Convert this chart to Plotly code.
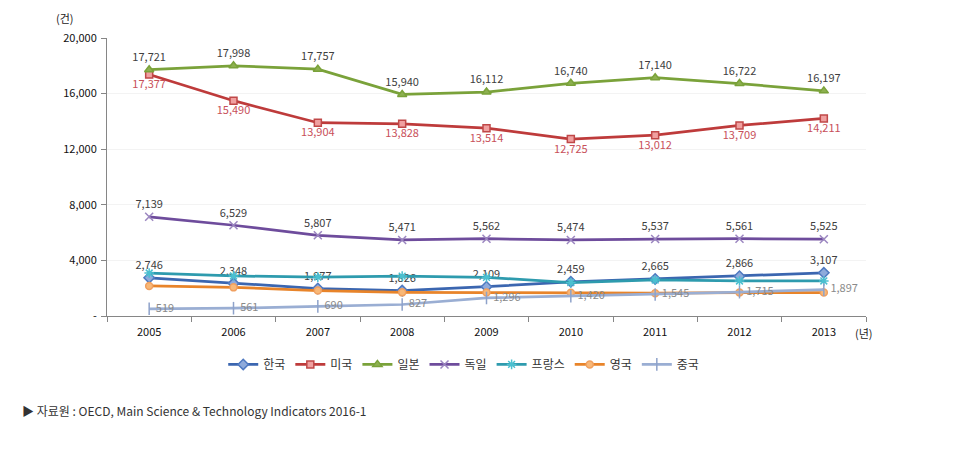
import plotly.graph_objects as go

years = ["2005", "2006", "2007", "2008", "2009", "2010", "2011", "2012", "2013"]
korea = [2746, 2348, 1977, 1826, 2109, 2459, 2665, 2866, 3107]
usa = [17377, 15490, 13904, 13828, 13514, 12725, 13012, 13709, 14211]
japan = [17721, 17998, 17757, 15940, 16112, 16740, 17140, 16722, 16197]
germany = [7139, 6529, 5807, 5471, 5562, 5474, 5537, 5561, 5525]
france = [3090, 2880, 2800, 2870, 2780, 2400, 2590, 2520, 2520]
uk = [2160, 2060, 1830, 1700, 1690, 1680, 1640, 1690, 1690]
china = [519, 561, 690, 827, 1296, 1420, 1545, 1715, 1897]
ytick_vals = [0, 4000, 8000, 12000, 16000, 20000]
ytick_text = ["-", "4,000", "8,000", "12,000", "16,000", "20,000"]

FONT = "Noto Sans CJK KR"

def fmt(v):
    return f"{v:,}"

series = [
    dict(name="한국", y=korea, line="#3B66B0", mfill="#8EAADB", mline="#4F79C0", sym="diamond", size=8,
         label=True, tpos="top center", tcol="#404040"),
    dict(name="미국", y=usa, line="#BE3B3B", mfill="#F0A0A0", mline="#C04848", sym="square", size=7,
         label=True, tpos="bottom center", tcol="#C8505A"),
    dict(name="일본", y=japan, line="#7AA23A", mfill="#8DB050", mline="#7AA23A", sym="triangle-up", size=8,
         label=True, tpos="top center", tcol="#404040"),
    dict(name="독일", y=germany, line="#6E4C9C", mfill="#9B86C0", mline="#9B86C0", sym="x-thin", size=8,
         label=True, tpos="top center", tcol="#404040"),
    dict(name="프랑스", y=france, line="#2E9BAE", mfill="#4BC0D0", mline="#4BC0D0", sym="asterisk", size=8,
         label=False, tpos=None, tcol=None),
    dict(name="영국", y=uk, line="#E8842A", mfill="#F8B878", mline="#F0A060", sym="circle", size=7,
         label=False, tpos=None, tcol=None),
    dict(name="중국", y=china, line="#9AAED3", mfill="#9AAED3", mline="#8EA2CA", sym="line-ns", size=9,
         label=True, tpos="middle right", tcol="#8A8A8A"),
]

fig = go.Figure()
for s in series:
    kw = {}
    mode = "lines+markers"
    if s["label"]:
        mode = "lines+markers+text"
        kw = dict(text=[fmt(v) for v in s["y"]], textposition=s["tpos"],
                  textfont=dict(family=FONT, size=11, color=s["tcol"]))
    fig.add_trace(go.Scatter(
        x=years, y=s["y"], name=s["name"], mode=mode,
        line=dict(color=s["line"], width=2.75),
        marker=dict(symbol=s["sym"], size=s["size"], color=s["mfill"],
                    line=dict(color=s["mline"], width=1.5)),
        cliponaxis=False, **kw))

fig.update_layout(
    width=960, height=450,
    margin=dict(l=107, r=94, t=38, b=134),
    paper_bgcolor="white", plot_bgcolor="white",
    font=dict(family=FONT, size=11, color="#222222"),
    showlegend=True,
    legend=dict(orientation="h", x=0.47, xanchor="center", y=-0.122, yanchor="top",
                font=dict(family=FONT, size=12, color="#333333"),
                itemwidth=30, tracegroupgap=0),
    xaxis=dict(type="category", range=[-0.5, 8.5], showgrid=False,
               showline=True, linecolor="#868686", linewidth=1,
               ticks="outside", tickson="boundaries", ticklen=5, tickcolor="#868686",
               ticklabelstandoff=6,
               tickfont=dict(family=FONT, size=11, color="#111111")),
    yaxis=dict(range=[0, 20000], tickvals=ytick_vals, ticktext=ytick_text,
               showgrid=True, gridcolor="#F3F3F3", gridwidth=1,
               showline=True, linecolor="#868686", linewidth=1,
               ticks="outside", ticklen=5, tickcolor="#868686", zeroline=False,
               ticklabelstandoff=2,
               tickfont=dict(family=FONT, size=11, color="#111111")),
    annotations=[
        dict(text="(건)", xref="paper", yref="paper", x=-0.055, y=1.0, yshift=20,
             xanchor="center", yanchor="middle", showarrow=False,
             font=dict(family=FONT, size=11, color="#222222")),
        dict(text="(년)", xref="paper", yref="paper", x=1.0, y=0, yshift=-17, xshift=-2,
             xanchor="center", yanchor="middle", showarrow=False,
             font=dict(family=FONT, size=11, color="#222222")),
        dict(text="▶ 자료원 : OECD, Main Science &amp; Technology Indicators 2016-1",
             xref="paper", yref="paper", x=-107/759, xshift=20, y=0, yshift=-94,
             xanchor="left", yanchor="middle", showarrow=False,
             font=dict(family=FONT, size=12, color="#333333")),
    ],
)

fig.write_html("out.html")
